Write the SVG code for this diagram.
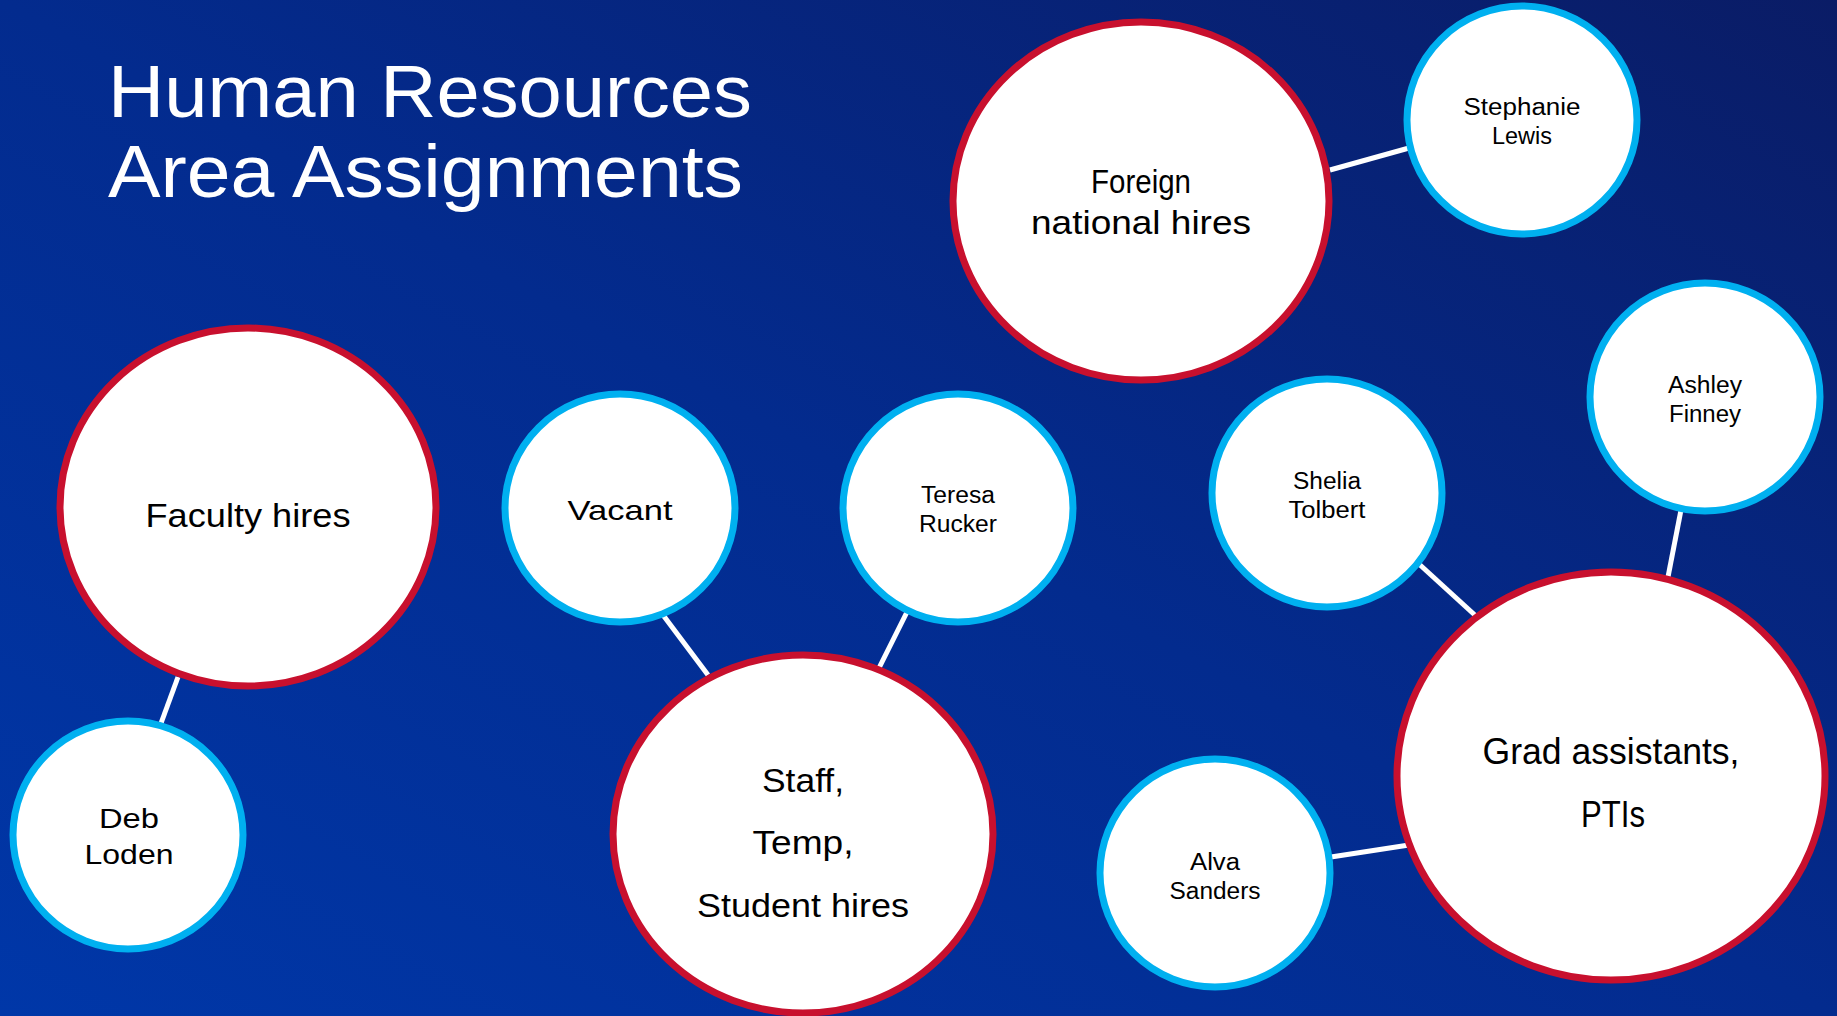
<svg xmlns="http://www.w3.org/2000/svg" width="1837" height="1016" viewBox="0 0 1837 1016">
<defs>
<linearGradient id="bg" x1="0" y1="1" x2="1" y2="0">
<stop offset="0" stop-color="#0037a8"/>
<stop offset="0.5" stop-color="#032b8e"/>
<stop offset="1" stop-color="#0a1c66"/>
</linearGradient>
<style>
.area{fill:#ffffff;stroke:#c8102e;stroke-width:7}
.person{fill:#ffffff;stroke:#00b0f0;stroke-width:7}
.conn{stroke:#ffffff;stroke-width:5;fill:none}
text{font-family:"Liberation Sans",Arial,sans-serif;fill:#000000;text-anchor:middle}
.title{fill:#ffffff;text-anchor:start;font-size:75px}
.big{font-size:33px}
.mid{font-size:28px}
.small{font-size:23px}
.grad{font-size:36px}
</style>
</defs>
<rect x="0" y="0" width="1837" height="1016" fill="url(#bg)"/>
<g id="title">
<text class="title" x="108" y="117" textLength="644" lengthAdjust="spacingAndGlyphs">Human Resources</text>
<text class="title" x="108" y="197" textLength="635" lengthAdjust="spacingAndGlyphs">Area Assignments</text>
</g>
<g id="connectors">
<line class="conn" x1="1330" y1="170" x2="1409" y2="148"/>
<line class="conn" x1="178" y1="677" x2="160" y2="726"/>
<line class="conn" x1="663" y1="615" x2="708" y2="675"/>
<line class="conn" x1="907" y1="612" x2="878" y2="670"/>
<line class="conn" x1="1419" y1="564" x2="1477" y2="617"/>
<line class="conn" x1="1681" y1="510" x2="1668" y2="577"/>
<line class="conn" x1="1331" y1="857" x2="1409" y2="845"/>
</g>
<g id="foreign">
<ellipse class="area" cx="1141" cy="201" rx="188" ry="179"/>
<text class="big" x="1141" y="193" textLength="100" lengthAdjust="spacingAndGlyphs">Foreign</text>
<text class="big" x="1141" y="234" textLength="220" lengthAdjust="spacingAndGlyphs">national hires</text>
</g>
<g id="stephanie">
<ellipse class="person" cx="1522" cy="120" rx="115" ry="114"/>
<text class="small" x="1522" y="115" textLength="117" lengthAdjust="spacingAndGlyphs">Stephanie</text>
<text class="small" x="1522" y="144" textLength="60" lengthAdjust="spacingAndGlyphs">Lewis</text>
</g>
<g id="faculty">
<ellipse class="area" cx="248" cy="507" rx="188" ry="179"/>
<text class="big" x="248" y="527" textLength="205" lengthAdjust="spacingAndGlyphs">Faculty hires</text>
</g>
<g id="deb">
<ellipse class="person" cx="128" cy="835" rx="115" ry="114"/>
<text class="mid" x="129" y="828" textLength="60" lengthAdjust="spacingAndGlyphs">Deb</text>
<text class="mid" x="129" y="864" textLength="89" lengthAdjust="spacingAndGlyphs">Loden</text>
</g>
<g id="vacant">
<ellipse class="person" cx="620" cy="508" rx="115" ry="114"/>
<text class="mid" x="620" y="520" textLength="105" lengthAdjust="spacingAndGlyphs">Vacant</text>
</g>
<g id="teresa">
<ellipse class="person" cx="958" cy="508" rx="115" ry="114"/>
<text class="small" x="958" y="503" textLength="74" lengthAdjust="spacingAndGlyphs">Teresa</text>
<text class="small" x="958" y="532" textLength="78" lengthAdjust="spacingAndGlyphs">Rucker</text>
</g>
<g id="staff">
<ellipse class="area" cx="803" cy="834" rx="190" ry="179"/>
<text class="big" x="803" y="792" textLength="82" lengthAdjust="spacingAndGlyphs">Staff,</text>
<text class="big" x="803" y="854" textLength="101" lengthAdjust="spacingAndGlyphs">Temp,</text>
<text class="big" x="803" y="917" textLength="212" lengthAdjust="spacingAndGlyphs">Student hires</text>
</g>
<g id="shelia">
<ellipse class="person" cx="1327" cy="493" rx="115" ry="114"/>
<text class="small" x="1327" y="489" textLength="68" lengthAdjust="spacingAndGlyphs">Shelia</text>
<text class="small" x="1327" y="518" textLength="77" lengthAdjust="spacingAndGlyphs">Tolbert</text>
</g>
<g id="ashley">
<ellipse class="person" cx="1705" cy="397" rx="115" ry="114"/>
<text class="small" x="1705" y="393" textLength="74" lengthAdjust="spacingAndGlyphs">Ashley</text>
<text class="small" x="1705" y="422" textLength="72" lengthAdjust="spacingAndGlyphs">Finney</text>
</g>
<g id="grad">
<ellipse class="area" cx="1611" cy="776" rx="214" ry="204"/>
<text class="grad" x="1611" y="764" textLength="257" lengthAdjust="spacingAndGlyphs">Grad assistants,</text>
<text class="grad" x="1613" y="827" textLength="64" lengthAdjust="spacingAndGlyphs">PTIs</text>
</g>
<g id="alva">
<ellipse class="person" cx="1215" cy="873" rx="115" ry="114"/>
<text class="small" x="1215" y="870" textLength="50" lengthAdjust="spacingAndGlyphs">Alva</text>
<text class="small" x="1215" y="899" textLength="91" lengthAdjust="spacingAndGlyphs">Sanders</text>
</g>
</svg>
